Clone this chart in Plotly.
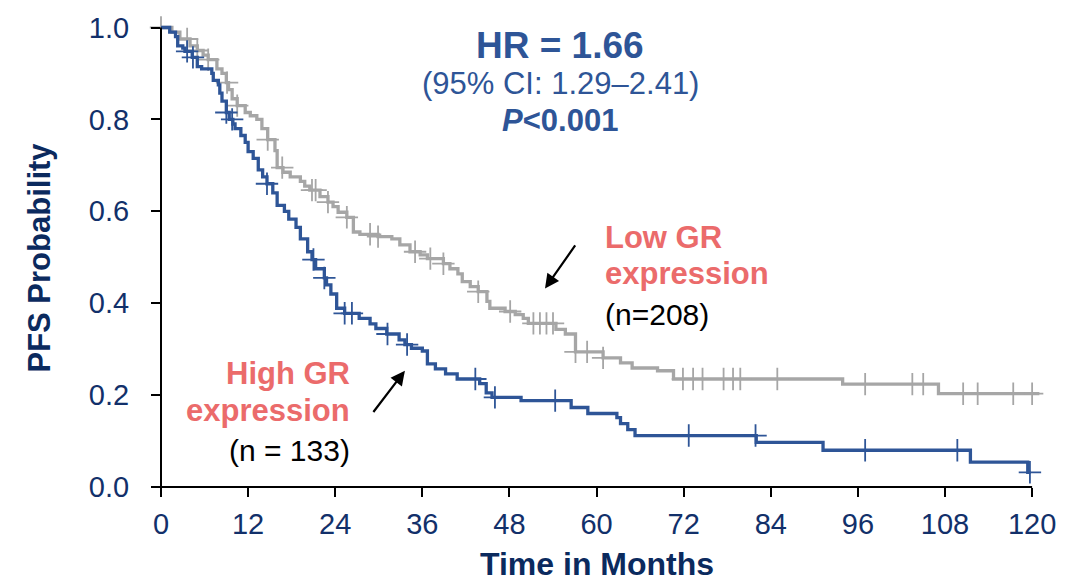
import numpy as np
import plotly.graph_objects as go

# Kaplan-Meier progression-free survival, by GR expression
# Event times (months) and survival estimate right after each drop
low_times = [1.5, 2.6, 4.0, 5.0, 5.8, 6.5, 7.7, 8.4, 9.0, 9.3, 9.8, 10.5, 11.6, 12.3, 13.2,
             13.9, 14.7, 15.7, 16.0, 16.8, 17.8, 19.2, 19.8, 20.5, 21.9, 23.0, 23.7, 24.4,
             25.6, 26.5, 27.4, 29.9, 31.8, 32.9, 34.3, 35.7, 36.7, 38.9, 39.8, 40.9, 41.5,
             42.6, 43.7, 44.9, 45.3, 47.4, 48.8, 49.9, 50.6, 54.4, 55.7, 57.1, 60.9, 63.3,
             64.9, 68.4, 70.6, 93.9, 107.1]
low_surv = [0.99, 0.975, 0.96, 0.95, 0.94, 0.93, 0.91, 0.90, 0.88, 0.865, 0.845, 0.83, 0.815,
            0.808, 0.80, 0.78, 0.756, 0.732, 0.695, 0.685, 0.675, 0.665, 0.655, 0.646, 0.632,
            0.62, 0.61, 0.598, 0.587, 0.555, 0.55, 0.545, 0.54, 0.527, 0.512, 0.505, 0.497,
            0.486, 0.475, 0.464, 0.447, 0.436, 0.425, 0.404, 0.389, 0.382, 0.375, 0.367,
            0.356, 0.343, 0.333, 0.294, 0.281, 0.27, 0.259, 0.253, 0.235, 0.224, 0.203]
low_end = 121.0
low_censored = [0.0, 3.6, 5.0, 6.5, 9.1, 10.5, 14.7, 16.7, 20.8, 21.3, 23.0, 25.6, 28.8,
                29.9, 35.0, 37.1, 38.9, 43.7, 48.1, 51.3, 52.2, 53.1, 54.0, 57.1, 58.7,
                60.9, 71.9, 73.3, 74.6, 77.5, 78.8, 79.8, 84.9, 97.0, 103.5, 105.0, 110.5,
                112.5, 117.4, 120.0]

high_times = [1.2, 2.0, 2.3, 3.0, 3.3, 4.3, 5.0, 5.6, 7.0, 7.2, 7.9, 8.1, 8.4, 9.0, 9.4, 9.9,
              10.2, 11.0, 11.6, 12.0, 12.7, 13.4, 14.0, 14.6, 15.4, 16.0, 17.0, 17.6, 18.6,
              19.2, 20.2, 20.8, 21.3, 22.5, 22.8, 23.4, 24.2, 25.3, 27.3, 28.8, 29.6, 31.1,
              32.8, 33.6, 34.5, 36.0, 36.7, 37.8, 39.2, 40.8, 43.9, 44.8, 45.6, 49.6, 56.5,
              58.8, 62.8, 63.3, 64.3, 65.3, 82.0, 91.2, 111.5, 119.4]
high_surv = [0.99, 0.98, 0.96, 0.955, 0.948, 0.935, 0.915, 0.91, 0.90, 0.885, 0.875, 0.857,
             0.84, 0.815, 0.80, 0.79, 0.78, 0.765, 0.75, 0.73, 0.715, 0.69, 0.675, 0.66, 0.64,
             0.613, 0.60, 0.583, 0.565, 0.54, 0.512, 0.495, 0.475, 0.455, 0.44, 0.42, 0.389,
             0.378, 0.367, 0.355, 0.345, 0.333, 0.32, 0.31, 0.302, 0.296, 0.268, 0.257,
             0.246, 0.235, 0.225, 0.205, 0.195, 0.188, 0.173, 0.16, 0.151, 0.138, 0.125,
             0.112, 0.097, 0.08, 0.054, 0.032]
high_end = 119.8
high_censored = [3.6, 4.4, 9.0, 9.8, 14.6, 21.0, 22.5, 25.3, 26.3, 31.2, 33.9, 43.3, 46.0,
                 54.3, 72.7, 81.9, 97.0, 109.7, 119.7]

x_ticks = list(range(0, 121, 12))
y_ticks = [0.0, 0.2, 0.4, 0.6, 0.8, 1.0]

BLUE = "#2E5597"
GRAY = "#A6A6A6"
SALMON = "#EB6B6B"
NAVY = "#12306A"
TITLE_NAVY = "#0B2A5E"
FONT = "Liberation Sans, Arial, sans-serif"

X_RANGE = [0, 121.5]
Y_RANGE = [0, 1.012]


def step_curve(times, surv, end):
    xs = [0.0] + list(times) + [end]
    ys = [1.0] + list(surv) + [surv[-1]]
    return xs, ys


def surv_at(times, surv, t):
    s = 1.0
    for ti, si in zip(times, surv):
        if ti <= t:
            s = si
        else:
            break
    return s


fig = go.Figure()

for times, surv, end, cens, color, name in [
    (low_times, low_surv, low_end, low_censored, GRAY, "Low GR expression"),
    (high_times, high_surv, high_end, high_censored, BLUE, "High GR expression"),
]:
    xs, ys = step_curve(times, surv, end)
    fig.add_trace(go.Scatter(
        x=xs, y=ys, mode="lines", line=dict(color=color, width=3.3, shape="hv"),
        name=name, showlegend=False, hoverinfo="skip",
    ))
    fig.add_trace(go.Scatter(
        x=cens, y=[surv_at(times, surv, t) for t in cens], mode="markers",
        marker=dict(symbol="cross-thin", size=16, line=dict(color=color, width=1.8)),
        cliponaxis=False, showlegend=False, hoverinfo="skip",
    ))

# Axis lines drawn in paper coordinates so they stop at 120 months / 1.0
x_end = (120 - X_RANGE[0]) / (X_RANGE[1] - X_RANGE[0])
y_end = (1.0 - Y_RANGE[0]) / (Y_RANGE[1] - Y_RANGE[0])
fig.add_shape(type="line", xref="paper", yref="paper", x0=-0.011, x1=x_end, y0=0, y1=0,
              line=dict(color="black", width=2))
fig.add_shape(type="line", xref="paper", yref="paper", x0=0, x1=0, y0=0, y1=y_end,
              line=dict(color="black", width=2))

annotations = [
    dict(x=55.0, y=0.961, text="<b>HR = 1.66</b>", font=dict(size=37, color=BLUE)),
    dict(x=55.0, y=0.879, text="(95% CI: 1.29–2.41)", font=dict(size=31, color=BLUE)),
    dict(x=55.0, y=0.797, text="<b><i>P</i>&lt;0.001</b>", font=dict(size=31, color=BLUE)),
    dict(x=60.9, y=0.544, text="<b>Low GR</b>", xanchor="left", font=dict(size=31, color=SALMON)),
    dict(x=60.9, y=0.464, text="<b>expression</b>", xanchor="left", font=dict(size=31, color=SALMON)),
    dict(x=60.9, y=0.376, text="(n=208)", xanchor="left", font=dict(size=30, color="black")),
    dict(x=26.3, y=0.248, text="<b>High GR</b>", xanchor="right", font=dict(size=31, color=SALMON)),
    dict(x=26.3, y=0.166, text="<b>expression</b>", xanchor="right", font=dict(size=31, color=SALMON)),
    dict(x=26.3, y=0.080, text="(n = 133)", xanchor="right", font=dict(size=30, color="black")),
]
for a in annotations:
    fig.add_annotation(xref="x", yref="y", showarrow=False, yanchor="middle",
                       **({"xanchor": "center"} | a))

# Pointer arrows to each curve
for head, tail in [((52.9, 0.432), (57.2, 0.529)), ((33.6, 0.253), (29.1, 0.160))]:
    fig.add_annotation(x=head[0], y=head[1], ax=tail[0], ay=tail[1], xref="x", yref="y",
                       axref="x", ayref="y", text="", showarrow=True, arrowhead=2,
                       arrowsize=1.3, arrowwidth=2.2, arrowcolor="black")

# Axis titles
fig.add_annotation(xref="paper", yref="paper", x=x_end / 2, y=-0.165, yanchor="middle",
                   text="<b>Time in Months</b>", showarrow=False,
                   font=dict(size=32, color=TITLE_NAVY))
fig.add_annotation(xref="paper", yref="paper", x=-0.138, y=0.5 * y_end, xanchor="center",
                   text="<b>PFS Probability</b>", showarrow=False, textangle=-90,
                   font=dict(size=31, color=TITLE_NAVY))

fig.update_layout(
    width=1083, height=583,
    margin=dict(l=161, r=40, t=18, b=96),
    paper_bgcolor="white", plot_bgcolor="white",
    font=dict(family=FONT),
    xaxis=dict(range=X_RANGE, tickvals=x_ticks, ticktext=[str(v) for v in x_ticks],
               showgrid=False, zeroline=False, showline=False,
               ticks="outside", ticklen=9, tickwidth=2, tickcolor="black",
               tickfont=dict(size=29, color=NAVY), ticklabelstandoff=2),
    yaxis=dict(range=Y_RANGE, tickvals=y_ticks, ticktext=[f"{v:.1f}" for v in y_ticks],
               showgrid=False, zeroline=False, showline=False,
               ticks="outside", ticklen=9, tickwidth=2, tickcolor="black",
               tickfont=dict(size=29, color=NAVY), ticklabelstandoff=16),
)

fig.write_html("out.html")
